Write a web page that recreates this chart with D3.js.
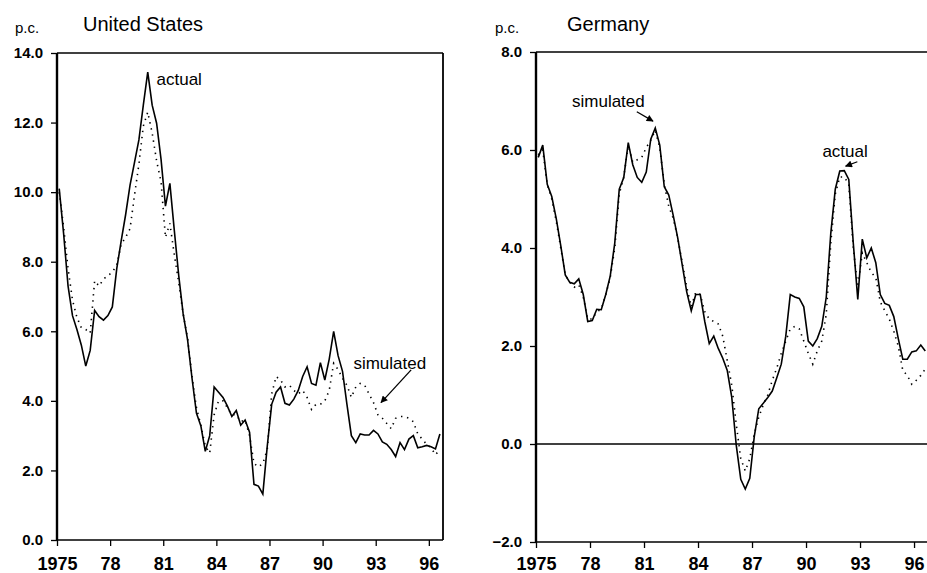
<!DOCTYPE html>
<html>
<head>
<meta charset="utf-8">
<script src="https://cdn.jsdelivr.net/npm/d3@7"></script>
<style>
  body { margin: 0; background: #fff; }
  svg { display: block; }
  text { font-family: "Liberation Sans", Arial, Helvetica, sans-serif; fill: #000; }
</style>
</head>
<body>
<svg id="chart" width="927" height="573"></svg>
<script>
// ---------------- DATA ----------------
const startYear = 1975;
const nQuarters = 87; // 1975Q1 .. 1996Q3, plotted at mid-quarter
const quarters = d3.range(nQuarters).map(i => startYear + (i + 0.5) / 4);

const xTickYears = [1975, 1978, 1981, 1984, 1987, 1990, 1993, 1996];
const xTickLabels = ["1975", "78", "81", "84", "87", "90", "93", "96"];
const usYTicks = [0, 2, 4, 6, 8, 10, 12, 14];
const deYTicks = [-2, 0, 2, 4, 6, 8];

const usActual = [
  10.1, 8.8, 7.3, 6.45, 6.05, 5.6, 5.0, 5.45, 6.6, 6.42, 6.32, 6.45,
  6.7, 7.8, 8.6, 9.35, 10.2, 10.85, 11.5, 12.5, 13.45, 12.5, 11.98, 10.95,
  9.6, 10.25, 8.9, 7.6, 6.5, 5.75, 4.65, 3.65, 3.28, 2.55, 3.0, 4.4,
  4.25, 4.1, 3.85, 3.55, 3.72, 3.3, 3.45, 3.1, 1.6, 1.55, 1.32, 2.7,
  3.9, 4.25, 4.4, 3.93, 3.88, 4.05, 4.3, 4.7, 4.98, 4.5, 4.45, 5.1,
  4.6, 5.2, 6.0, 5.3, 4.85, 3.9, 3.0, 2.8, 3.05, 3.02, 3.02, 3.15,
  3.05, 2.82, 2.75, 2.6, 2.4, 2.8, 2.6, 2.9, 3.0, 2.65, 2.68, 2.72,
  2.68, 2.62, 3.05
];
const usSimulated = [
  10.0, 9.0, 7.8, 6.9, 6.4, 6.1, 6.05, 5.95, 7.45, 7.3, 7.5, 7.6,
  7.7, 7.9, 8.5, 8.7, 8.95, 9.9, 10.8, 11.9, 12.3, 11.7, 10.9, 10.3,
  8.7, 9.1, 8.2, 7.4, 6.5, 5.8, 4.7, 3.8, 3.3, 2.7, 2.5, 3.6,
  4.0, 4.0, 3.8, 3.6, 3.6, 3.4, 3.45, 3.0, 2.2, 2.1, 2.2, 2.6,
  4.2, 4.7, 4.6, 4.4, 4.45, 4.3, 4.2, 4.3, 4.1, 3.75, 3.9, 3.9,
  4.0, 4.3, 5.08, 4.9, 4.65, 4.45, 4.1, 4.4, 4.5, 4.45, 4.2, 3.95,
  3.6, 3.5, 3.35, 3.2, 3.5, 3.55, 3.55, 3.5, 3.4, 3.05, 2.9, 2.75,
  2.65, 2.45, 2.6
];
const deActual = [
  5.85, 6.1, 5.3, 5.05, 4.6, 4.05, 3.45, 3.3, 3.27, 3.37, 3.05, 2.5,
  2.52, 2.75, 2.74, 3.05, 3.43, 4.1, 5.2, 5.44, 6.15, 5.7, 5.44, 5.34,
  5.55, 6.22, 6.45, 6.1, 5.25, 5.08, 4.66, 4.2, 3.65, 3.1, 2.72, 3.05,
  3.05, 2.5, 2.05, 2.2, 1.95, 1.75, 1.5, 0.95, -0.03, -0.72, -0.92, -0.7,
  0.15, 0.72, 0.83, 0.95, 1.08, 1.35, 1.63, 2.2, 3.05, 3.0, 2.97, 2.8,
  2.1, 2.0, 2.15, 2.4, 3.0, 4.3, 5.2, 5.57, 5.58, 5.4, 4.1, 2.95,
  4.18, 3.8, 4.0, 3.7, 3.05, 2.87, 2.83, 2.6, 2.15, 1.73, 1.73, 1.88,
  1.9, 2.02, 1.9
];
const deSimulated = [
  5.9, 6.0, 5.3, 5.0, 4.55, 4.0, 3.45, 3.3, 3.2, 3.25, 3.0, 2.55,
  2.55, 2.7, 2.75, 3.05, 3.4, 4.0, 5.1, 5.45, 6.1, 5.75, 5.8, 5.85,
  6.05, 6.2, 6.4, 6.05, 5.3, 4.85, 4.6, 4.2, 3.7, 3.2, 2.8, 3.1,
  3.05, 2.7, 2.55, 2.5, 2.45, 2.2, 1.7, 1.2, 0.4, -0.3, -0.55, -0.3,
  0.2, 0.55, 0.8, 1.0, 1.3, 1.55, 1.85, 2.1, 2.35, 2.4, 2.35, 2.1,
  1.85, 1.63, 1.9, 2.1, 2.65, 4.1, 5.1, 5.45, 5.45, 5.3, 4.0, 3.2,
  3.9, 3.7, 3.5, 3.4, 2.9, 2.72, 2.55, 2.3, 2.0, 1.5, 1.4, 1.22,
  1.3, 1.4, 1.53
];

// annotations in data coordinates: [year, value]
const usAnnotations = [
  { text: "actual", at: [1980.62, 13.07], arrow: null },
  { text: "simulated", at: [1991.74, 4.91], arrow: [[1995.0, 4.89], [1993.3, 3.95]] }
];
const deAnnotations = [
  { text: "simulated", at: [1977.0, 6.88], arrow: [[1980.6, 6.78], [1981.5, 6.59]] },
  { text: "actual", at: [1990.91, 5.86], arrow: [[1992.85, 5.76], [1992.2, 5.67]] }
];

// ---------------- DRAW ----------------
const svg = d3.select("#chart");

const defs = svg.append("defs");
defs.append("marker")
  .attr("id", "arrowhead")
  .attr("viewBox", "0 0 10 10")
  .attr("refX", 9).attr("refY", 5)
  .attr("markerWidth", 9).attr("markerHeight", 7)
  .attr("markerUnits", "userSpaceOnUse")
  .attr("orient", "auto")
  .append("path").attr("d", "M0,0 L10,5 L0,10 Z").attr("fill", "#000");

function drawPanel(cfg) {
  const x = d3.scaleLinear().domain(cfg.xDomain).range(cfg.xRange);
  const y = d3.scaleLinear().domain(cfg.yDomain).range(cfg.yRange);
  const g = svg.append("g");
  const [x0, x1] = cfg.xRange;
  const yb = cfg.yRange[0], yt = cfg.yRange[1];

  // frame
  g.append("line").attr("x1", x0).attr("x2", x1).attr("y1", yt).attr("y2", yt)
    .attr("stroke", "#000").attr("stroke-width", 1.6);
  g.append("line").attr("x1", x0).attr("x2", x1).attr("y1", yb).attr("y2", yb)
    .attr("stroke", "#000").attr("stroke-width", 1.6);
  if (cfg.rightBorder) {
    g.append("line").attr("x1", x1).attr("x2", x1).attr("y1", yt).attr("y2", yb)
      .attr("stroke", "#000").attr("stroke-width", 1.8);
  }
  g.append("line").attr("x1", x0).attr("x2", x0).attr("y1", yt).attr("y2", yb)
    .attr("stroke", "#000").attr("stroke-width", 2.4);

  // zero line
  if (cfg.zeroLine) {
    g.append("line").attr("x1", x0).attr("x2", x1).attr("y1", y(0)).attr("y2", y(0))
      .attr("stroke", "#000").attr("stroke-width", 1.3);
  }

  // y axis
  const ya = g.append("g").attr("transform", `translate(${x0},0)`)
    .call(d3.axisLeft(y).tickValues(cfg.yTicks).tickFormat(d3.format(".1f"))
      .tickSize(6).tickPadding(8));
  ya.select(".domain").remove();
  ya.selectAll("line").attr("stroke", "#000").attr("stroke-width", 1.3);
  ya.selectAll("text").style("font-size", "15px").style("font-weight", "bold")
    .style("font-family", '"Liberation Sans", Arial, sans-serif');

  // x axis
  const xa = g.append("g").attr("transform", `translate(0,${yb})`)
    .call(d3.axisBottom(x).tickValues(xTickYears).tickFormat((d, i) => xTickLabels[i])
      .tickSize(6).tickPadding(cfg.xPad));
  xa.select(".domain").remove();
  xa.selectAll("line").attr("stroke", "#000").attr("stroke-width", 1.3);
  xa.selectAll("text").style("font-size", "18px").style("font-weight", "bold")
    .style("font-family", '"Liberation Sans", Arial, sans-serif');

  // series
  const line = d3.line().x((d, i) => x(quarters[i])).y(d => y(d));
  g.append("path").datum(cfg.simulated).attr("d", line)
    .attr("fill", "none").attr("stroke", "#000").attr("stroke-width", 1.6)
    .attr("stroke-dasharray", "1.4 4.8");
  g.append("path").datum(cfg.actual).attr("d", line)
    .attr("fill", "none").attr("stroke", "#000").attr("stroke-width", 1.6)
    .attr("stroke-linejoin", "miter");

  // titles
  svg.append("text").attr("x", cfg.pcX).attr("y", 33).text("p.c.")
    .style("font-size", "15px");
  svg.append("text").attr("x", cfg.titleX).attr("y", 31).text(cfg.title)
    .style("font-size", "20px");

  // annotations
  cfg.annotations.forEach(a => {
    g.append("text").attr("x", x(a.at[0])).attr("y", y(a.at[1])).text(a.text)
      .style("font-size", "17px");
    if (a.arrow) {
      g.append("line")
        .attr("x1", x(a.arrow[0][0])).attr("y1", y(a.arrow[0][1]))
        .attr("x2", x(a.arrow[1][0])).attr("y2", y(a.arrow[1][1]))
        .attr("stroke", "#000").attr("stroke-width", 1.3)
        .attr("marker-end", "url(#arrowhead)");
    }
  });
}

drawPanel({
  title: "United States", titleX: 83, pcX: 15,
  xDomain: [1975, 1996.8], xRange: [57, 443],
  yDomain: [0, 14], yRange: [540, 53], yTicks: usYTicks,
  xPad: 11, rightBorder: true, zeroLine: false,
  actual: usActual, simulated: usSimulated, annotations: usAnnotations
});

drawPanel({
  title: "Germany", titleX: 567, pcX: 495,
  xDomain: [1975, 1996.72], xRange: [536, 927],
  yDomain: [-2, 8], yRange: [542, 52], yTicks: deYTicks,
  xPad: 9, rightBorder: false, zeroLine: true,
  actual: deActual, simulated: deSimulated, annotations: deAnnotations
});
</script>
</body>
</html>
